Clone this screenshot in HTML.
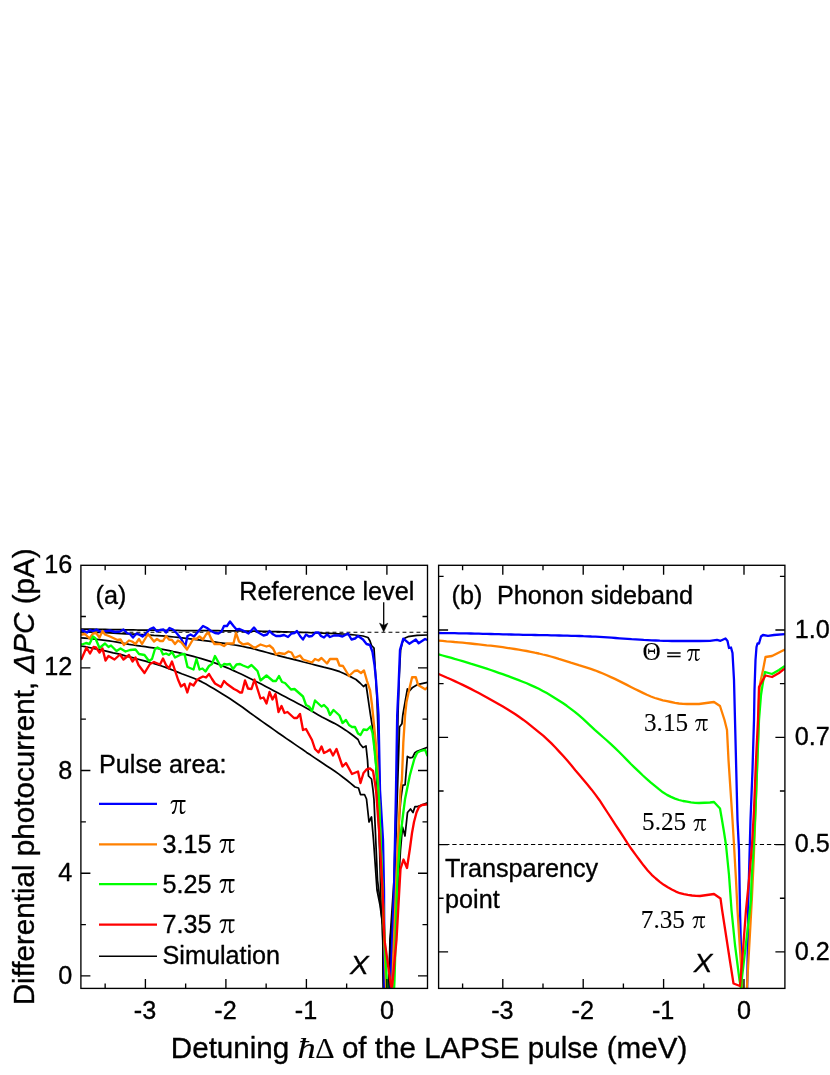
<!DOCTYPE html>
<html><head><meta charset="utf-8"><title>Figure</title>
<style>
html,body{margin:0;padding:0;background:#fff;}
body{width:830px;height:1075px;position:relative;overflow:hidden;font-family:"Liberation Sans",sans-serif;color:#000;}
.t{position:absolute;white-space:nowrap;line-height:1;margin:0;padding:0;}
.bl{display:inline-block;}
.s{font-family:"Liberation Serif",serif;}
svg text{font-family:"Liberation Sans",sans-serif;fill:#000;stroke:#000;stroke-width:0.35px;stroke-linejoin:round;}
.ser{font-family:"Liberation Serif",serif;stroke-width:0.12px !important;}
</style></head><body>
<svg width="830" height="1075" viewBox="0 0 830 1075" style="position:absolute;left:0;top:0;will-change:transform">
<defs>
<clipPath id="cl"><rect x="80.90" y="565.30" width="346.60" height="423.10"/></clipPath>
<clipPath id="cr"><rect x="438.60" y="565.30" width="346.30" height="423.10"/></clipPath>
<path id="pi" d="M0.05,3.9 C0.25,1.6 1.5,0 3.6,0 L15,0 L15,2.05 L11.25,2.05 C11.1,5 11.0,8.5 11.1,10.6 C11.15,11.7 11.6,12.25 12.4,12.25 C13.3,12.25 14.0,11.6 14.55,10.6 L15.1,10.9 C14.5,12.6 13.2,14 11.6,14 C10.0,14 9.3,12.8 9.3,10.9 C9.3,8 9.5,5 9.65,2.05 L6.65,2.05 C6.4,5 5.9,8.3 4.9,11 C4.3,12.7 3.6,14 2.5,14 C1.8,14 1.3,13.5 1.3,12.9 C1.3,12.3 1.7,11.9 2.3,11.7 C3.0,11.4 3.5,10.8 3.9,9.6 C4.6,7.4 5.0,4.6 5.2,2.05 L3.9,2.05 C2.2,2.05 1.2,2.7 0.7,4.05 Z"/>
</defs>
<line x1="80.5" y1="632.2" x2="427.5" y2="632.2" stroke="#000" stroke-width="1.05" stroke-dasharray="3.9 3.1"/>
<line x1="438.0" y1="844.5" x2="784.9" y2="844.5" stroke="#000" stroke-width="1.05" stroke-dasharray="4.3 2.85"/>
<g clip-path="url(#cl)" fill="none" stroke-linejoin="round" stroke-linecap="butt">
<polyline points="81.0,629.0 85.0,629.1 89.1,629.2 93.1,629.2 97.1,629.3 101.1,629.4 105.2,629.4 109.2,629.5 113.2,629.6 117.3,629.7 121.3,629.7 125.3,629.8 129.3,629.8 133.4,629.9 137.4,630.0 141.4,630.0 145.5,630.1 149.5,630.1 153.5,630.2 157.5,630.2 161.6,630.3 165.6,630.3 169.6,630.4 173.7,630.4 177.7,630.4 181.7,630.5 185.7,630.5 189.8,630.5 193.8,630.6 197.8,630.6 201.9,630.6 205.9,630.7 209.9,630.7 213.9,630.7 218.0,630.7 222.0,630.8 226.0,630.8 230.1,630.9 234.1,630.9 238.1,630.9 242.1,631.0 246.2,631.0 250.2,631.1 254.2,631.2 258.3,631.2 262.3,631.3 266.3,631.4 270.3,631.5 274.4,631.6 278.4,631.7 282.4,631.8 286.5,631.9 290.5,632.0 294.5,632.2 298.5,632.3 302.6,632.4 306.6,632.5 310.6,632.7 314.7,632.8 318.7,633.0 322.7,633.1 326.7,633.3 330.8,633.4 334.8,633.6 338.8,633.8 342.9,634.0 346.9,634.3 350.9,634.6 354.9,635.0 359.0,635.5 363.0,636.0 368.0,637.5 370.0,641.0 371.5,645.5 374.0,648.0 375.0,665.0 377.0,700.0 379.0,760.0 381.0,850.0 382.6,920.0 383.8,1000.0 388.4,1000.0 390.0,940.0 392.0,910.0 394.0,880.0 396.5,790.0 398.0,715.0 399.3,675.0 400.6,650.0 402.5,642.0 405.0,638.0 408.0,636.7 417.0,635.3 427.5,635.0" stroke="#000" stroke-width="1.75"/>
<polyline points="81.0,631.5 85.0,631.7 89.1,631.9 93.1,632.1 97.2,632.3 101.2,632.5 105.3,632.7 109.3,632.9 113.4,633.1 117.4,633.4 121.4,633.6 125.5,633.8 129.5,634.0 133.6,634.2 137.6,634.4 141.7,634.6 145.7,634.9 149.8,635.1 153.8,635.4 157.8,635.6 161.9,635.9 165.9,636.2 170.0,636.6 174.0,637.0 178.1,637.4 182.1,637.8 186.1,638.3 190.2,638.8 194.2,639.3 198.3,639.8 202.3,640.3 206.4,640.8 210.4,641.3 214.5,641.9 218.5,642.5 222.5,643.1 226.6,643.7 230.6,644.3 234.7,645.0 238.7,645.7 242.8,646.5 246.8,647.3 250.9,648.2 254.9,649.2 258.9,650.3 263.0,651.4 267.0,652.5 271.1,653.6 275.1,654.7 279.2,655.8 283.2,656.8 287.2,657.9 291.3,658.9 295.3,659.9 299.4,660.9 303.4,662.0 307.5,663.0 311.5,664.0 315.6,665.1 319.6,666.1 323.6,667.2 327.7,668.2 331.7,669.2 335.8,670.3 339.8,671.7 343.9,673.5 347.9,675.5 352.0,677.4 356.0,679.5 360.0,683.0 363.5,686.5 366.0,684.5 367.0,691.0 369.0,705.0 370.5,715.0 371.8,723.0 373.4,735.0 375.6,760.0 377.8,800.0 379.6,850.0 380.8,895.0 382.5,925.0 383.8,1000.0 388.6,1000.0 390.2,940.0 394.0,900.0 396.7,815.0 398.1,770.8 399.5,727.1 401.9,723.8 402.8,715.0 405.1,701.9 407.4,688.8 408.8,691.6 412.6,687.4 417.2,684.7 427.5,682.3" stroke="#000" stroke-width="1.75"/>
<polyline points="81.0,637.8 85.0,638.1 89.0,638.5 93.0,638.9 97.1,639.3 101.1,639.8 105.1,640.3 109.1,640.9 113.1,641.5 117.1,642.2 121.1,642.9 125.2,643.7 129.2,644.4 133.2,645.0 137.2,645.6 141.2,646.2 145.2,646.7 149.2,647.3 153.3,647.9 157.3,648.5 161.3,649.2 165.3,649.9 169.3,650.7 173.3,651.6 177.3,652.4 181.4,653.4 185.4,654.3 189.4,655.3 193.4,656.4 197.4,657.5 201.4,658.6 205.4,659.8 209.5,661.1 213.5,662.5 217.5,663.9 221.5,665.5 225.5,667.1 229.5,668.8 233.6,670.6 237.6,672.5 241.6,674.3 245.6,676.2 249.6,678.2 253.6,680.2 257.6,682.2 261.7,684.3 265.7,686.4 269.7,688.5 273.7,690.7 277.7,692.8 281.7,694.9 285.7,697.0 289.8,699.2 293.8,701.3 297.8,703.4 301.8,705.6 305.8,707.8 309.8,710.1 313.8,712.3 317.9,714.7 321.9,717.0 325.9,719.1 329.9,721.1 333.9,723.1 337.9,725.3 341.9,727.7 346.0,730.4 350.0,733.2 354.0,736.3 358.0,739.5 360.0,744.0 363.0,747.5 366.0,746.0 367.5,760.0 368.5,776.0 371.5,779.0 373.0,790.0 374.0,800.0 377.5,880.0 380.0,900.0 382.6,925.0 383.8,1000.0 388.8,1000.0 390.5,940.0 396.0,900.0 399.5,815.0 400.9,798.7 402.8,785.2 405.1,784.8 407.4,756.4 409.8,757.8 412.6,757.3 414.9,752.7 417.2,751.3 427.5,747.3" stroke="#000" stroke-width="1.75"/>
<polyline points="81.0,646.0 85.0,646.7 89.1,647.5 93.1,648.3 97.1,649.2 101.1,650.0 105.2,650.9 109.2,651.8 113.2,652.8 117.3,653.7 121.3,654.7 125.3,655.8 129.4,656.8 133.4,657.9 137.4,659.0 141.4,660.1 145.5,661.2 149.5,662.4 153.5,663.5 157.6,664.7 161.6,666.0 165.6,667.4 169.6,668.9 173.7,670.5 177.7,672.1 181.7,673.7 185.8,675.2 189.8,676.7 193.8,678.3 197.9,680.0 201.9,681.9 205.9,684.1 209.9,686.4 214.0,688.8 218.0,691.2 222.0,693.7 226.1,696.2 230.1,698.8 234.1,701.5 238.1,704.2 242.2,707.0 246.2,710.0 250.2,713.0 254.3,715.9 258.3,718.8 262.3,721.6 266.4,724.5 270.4,727.3 274.4,730.1 278.4,733.0 282.5,735.8 286.5,738.6 290.5,741.3 294.6,744.1 298.6,746.9 302.6,749.6 306.6,752.4 310.7,755.1 314.7,757.9 318.7,760.6 322.8,763.3 326.8,766.0 330.8,768.6 334.9,771.3 338.9,774.1 342.9,777.2 346.9,780.3 351.0,783.6 355.0,787.0 358.5,788.0 360.5,794.5 364.5,794.5 366.5,799.0 369.0,822.0 371.5,817.0 373.5,840.0 377.0,890.0 380.0,905.0 382.6,925.0 383.8,1000.0 389.0,1000.0 391.0,940.0 397.5,900.0 400.5,850.0 402.5,827.0 405.0,836.0 407.5,812.5 410.5,809.0 413.0,812.5 415.0,806.5 417.5,806.5 427.5,802.8" stroke="#000" stroke-width="1.75"/>
<polyline points="81.0,630.5 82.0,630.5 84.0,631.0 87.0,632.5 90.0,630.0 93.0,631.0 96.5,629.5 100.0,631.5 104.0,631.5 110.0,630.5 115.0,632.0 120.0,631.5 123.5,629.5 127.0,633.0 130.0,634.0 133.0,637.5 136.5,633.5 139.0,634.5 142.5,636.5 146.0,633.5 150.0,629.0 153.5,627.5 157.0,631.5 160.0,630.0 163.5,629.5 166.0,632.5 169.5,628.0 173.0,629.5 176.5,633.0 181.0,638.5 185.2,646.8 187.5,636.0 190.5,634.5 194.0,636.5 199.0,630.5 203.0,626.0 207.0,628.0 211.0,631.0 215.0,633.0 218.5,633.5 221.5,631.5 224.0,626.0 227.0,626.0 230.0,621.5 233.5,626.0 236.5,629.5 239.5,629.0 243.0,630.5 245.0,631.5 248.5,633.5 254.0,627.5 257.5,632.0 263.5,635.5 267.0,634.5 269.5,631.0 272.5,634.0 276.0,636.0 280.0,636.0 284.0,635.0 288.0,637.0 291.5,633.5 294.5,633.0 297.0,631.0 300.0,636.0 303.0,639.5 306.0,634.5 309.0,636.5 312.0,636.0 315.5,632.5 318.5,632.5 321.0,636.0 324.0,637.5 327.0,634.5 330.0,637.0 334.0,635.5 339.0,635.5 342.5,636.5 348.0,633.5 351.5,639.5 355.0,638.5 358.0,636.0 363.0,639.5 366.5,644.0 370.0,645.0 372.5,652.0 374.5,665.0 376.0,680.0 377.5,700.0 378.5,715.0 380.0,790.0 383.0,840.0 384.0,890.0 384.6,1000.0 390.4,1000.0 391.5,960.0 393.0,920.0 394.0,890.0 396.0,790.0 397.2,715.0 398.6,685.0 400.0,649.8 403.3,638.6 409.3,643.7 415.8,639.5 418.6,643.3 425.1,639.0 427.5,640.0" stroke="#0000ff" stroke-width="2.35"/>
<polyline points="81.0,634.5 82.0,634.5 85.0,634.0 89.5,638.5 93.0,633.5 96.0,633.0 99.5,637.5 102.5,631.0 105.0,634.5 110.0,636.5 117.5,640.0 120.5,639.5 124.0,645.0 129.0,640.5 132.0,641.5 135.5,644.0 139.0,639.0 142.0,644.0 148.0,634.0 154.0,641.5 157.0,639.0 160.0,641.0 163.0,641.0 166.0,636.0 169.0,639.5 172.0,640.0 175.0,644.0 178.0,640.5 181.5,642.5 187.0,649.5 190.0,644.5 193.5,638.5 196.5,639.0 199.5,636.5 203.0,639.5 206.0,634.5 208.5,632.5 211.0,638.5 214.5,644.0 220.0,644.0 224.0,646.0 227.0,643.5 233.5,643.5 236.0,633.0 239.0,641.5 243.0,644.5 248.0,643.5 254.5,648.0 260.5,644.5 266.5,646.5 269.5,645.5 273.0,648.5 276.0,654.5 279.0,653.0 284.5,654.0 288.5,651.5 291.5,652.5 294.5,658.0 300.0,655.5 303.0,659.5 312.0,662.5 315.0,659.0 318.5,660.5 321.5,658.0 323.5,660.0 327.0,663.5 330.0,659.0 337.0,659.0 339.5,665.5 343.0,666.0 349.0,676.0 354.5,671.0 357.5,670.5 361.0,673.0 364.0,670.5 367.0,681.0 370.0,690.0 372.0,705.0 373.0,715.0 376.5,750.0 379.0,800.0 382.0,880.0 386.6,1000.0 391.6,1000.0 396.0,890.0 398.0,840.0 400.5,790.0 401.9,780.0 403.3,742.9 405.1,715.0 406.5,701.9 409.8,687.0 412.1,677.2 415.8,677.2 418.1,685.1 425.1,689.3 427.5,687.4" stroke="#ff8000" stroke-width="2.35"/>
<polyline points="81.0,644.5 82.0,644.5 86.0,643.0 89.5,644.0 93.0,636.5 95.5,638.5 99.5,648.0 105.0,643.5 108.5,647.0 111.0,645.5 116.5,651.0 120.5,648.5 125.5,651.5 130.0,650.0 135.5,649.5 139.0,654.0 144.5,655.0 149.0,661.0 152.0,659.0 155.0,649.0 157.5,647.5 160.5,649.0 163.0,654.5 166.0,653.5 169.0,655.0 172.0,652.0 175.0,657.5 181.0,654.5 184.5,654.0 187.5,667.0 193.5,669.5 196.5,659.0 199.5,669.5 202.5,668.5 205.5,671.5 209.0,666.0 212.0,664.0 215.0,656.0 221.0,667.0 224.0,664.0 227.0,664.5 230.0,664.0 233.0,669.0 236.5,664.5 240.0,664.0 243.0,665.5 248.0,667.5 251.5,665.0 257.5,671.0 260.5,680.5 266.5,675.5 273.0,681.0 276.0,681.0 279.0,676.0 282.0,682.0 285.0,683.0 291.0,689.5 294.5,689.0 303.0,696.5 306.0,705.0 309.0,706.5 312.0,711.0 315.0,700.5 321.5,706.5 324.0,705.0 327.5,708.5 330.0,715.0 333.5,710.0 339.5,715.5 342.5,723.0 346.0,720.0 349.0,725.0 352.0,727.0 355.0,727.0 358.0,733.5 360.5,735.0 363.5,729.5 367.0,730.0 370.5,726.5 372.5,733.0 374.0,745.0 375.5,760.0 377.5,780.0 379.0,800.0 381.0,850.0 384.6,940.0 387.9,1000.0 393.6,1000.0 394.5,980.0 397.0,890.0 398.0,870.0 400.0,840.0 403.0,815.0 405.1,798.7 409.8,775.5 414.4,758.7 417.2,752.7 420.9,750.8 425.1,749.9 427.5,756.0" stroke="#00ff00" stroke-width="2.35"/>
<polyline points="81.0,659.0 81.5,659.0 86.5,647.5 90.0,653.5 93.5,647.0 96.0,647.5 99.5,652.5 102.5,648.5 105.5,660.5 108.5,656.0 114.5,659.5 120.0,654.5 123.5,659.5 129.0,655.0 132.5,661.5 135.5,657.5 138.5,665.0 144.5,673.0 150.0,664.0 154.0,662.0 160.0,664.5 163.0,658.5 166.0,665.0 169.0,668.5 172.0,661.5 175.0,670.5 178.0,679.5 181.0,686.5 184.5,684.0 187.3,692.5 190.0,683.5 193.5,685.5 197.0,680.0 200.0,678.0 203.0,676.5 206.0,677.5 209.0,674.0 212.0,679.0 215.0,683.5 221.0,687.0 224.0,681.0 227.0,684.0 234.0,689.0 237.0,690.5 240.0,692.5 242.0,692.5 245.0,680.5 248.0,688.5 251.5,689.0 254.5,679.5 257.5,689.0 260.5,698.5 263.5,697.5 266.5,703.5 269.5,692.0 272.5,699.5 275.5,694.0 278.5,712.0 281.5,706.0 284.5,713.0 287.5,712.0 294.0,718.0 297.0,718.0 300.0,714.0 303.0,730.0 306.0,729.0 312.0,740.0 315.0,749.0 318.5,752.5 321.5,746.5 324.0,753.0 327.0,751.5 330.0,749.5 333.0,755.5 336.5,749.0 342.5,766.5 346.0,763.0 352.0,774.0 358.0,771.5 360.5,783.0 363.5,773.0 366.5,769.5 370.0,768.5 373.0,771.0 374.5,780.0 376.0,790.0 379.0,830.0 382.5,890.0 384.5,940.0 391.0,986.0 391.6,987.3 392.2,986.0 396.5,940.0 399.3,890.0 400.5,869.0 403.5,859.5 407.0,868.0 410.0,848.0 412.0,833.0 414.0,822.0 416.5,812.5 419.0,807.0 422.0,805.0 427.5,804.3" stroke="#ff0000" stroke-width="2.35"/>
</g>
<g clip-path="url(#cr)" fill="none" stroke-linejoin="round" stroke-linecap="butt">
<polyline points="438.6,633.0 442.6,633.1 446.6,633.1 450.7,633.2 454.7,633.2 458.7,633.3 462.7,633.4 466.8,633.4 470.8,633.5 474.8,633.6 478.8,633.7 482.8,633.8 486.9,633.9 490.9,634.0 494.9,634.1 498.9,634.2 502.9,634.3 507.0,634.4 511.0,634.5 515.0,634.6 519.0,634.7 523.1,634.8 527.1,634.8 531.1,634.9 535.1,635.0 539.1,635.1 543.2,635.1 547.2,635.2 551.2,635.3 555.2,635.4 559.2,635.5 563.3,635.6 567.3,635.7 571.3,635.8 575.3,635.9 579.4,636.0 583.4,636.2 587.4,636.3 591.4,636.5 595.4,636.6 599.5,636.8 603.5,637.1 607.5,637.4 611.5,637.7 615.5,638.0 619.6,638.3 623.6,638.6 627.6,638.9 631.6,639.2 635.7,639.4 639.7,639.6 643.7,639.9 647.7,640.1 651.7,640.3 655.8,640.5 659.8,640.7 663.8,640.8 667.8,640.9 671.8,641.0 675.9,641.0 679.9,641.0 683.9,641.0 687.9,641.0 692.0,641.0 696.0,641.0 700.0,641.0 710.0,640.8 717.0,639.8 720.5,640.8 725.5,638.5 727.5,641.0 729.0,648.0 731.0,647.5 732.5,653.0 734.0,680.0 735.0,720.0 736.0,760.0 737.5,820.0 739.0,850.0 740.0,910.0 741.0,950.0 741.6,1000.0 747.0,1000.0 747.6,960.0 748.3,900.0 750.5,820.0 752.5,770.0 754.0,720.0 754.5,690.0 755.5,660.0 756.5,647.0 757.5,643.5 759.0,643.5 761.0,636.5 763.0,635.0 768.0,635.8 774.0,635.0 784.9,634.2" stroke="#0000ff" stroke-width="2.3"/>
<polyline points="438.6,640.6 442.6,640.9 446.6,641.3 450.6,641.6 454.6,642.0 458.6,642.3 462.6,642.7 466.6,643.1 470.6,643.5 474.7,644.0 478.7,644.4 482.7,644.8 486.7,645.3 490.7,645.7 494.7,646.2 498.7,646.7 502.7,647.2 506.7,647.8 510.7,648.4 514.7,649.0 518.7,649.6 522.7,650.3 526.7,651.0 530.7,651.8 534.7,652.7 538.8,653.5 542.8,654.5 546.8,655.4 550.8,656.5 554.8,657.6 558.8,658.9 562.8,660.1 566.8,661.4 570.8,662.7 574.8,663.9 578.8,665.2 582.8,666.4 586.8,667.6 590.8,668.9 594.8,670.3 598.8,671.9 602.9,673.5 606.9,675.3 610.9,677.1 614.9,678.9 618.9,680.9 622.9,682.9 626.9,684.9 630.9,687.0 634.9,689.0 638.9,690.9 642.9,692.9 646.9,694.8 650.9,696.5 654.9,698.0 658.9,699.2 662.9,700.3 667.0,701.2 671.0,702.0 675.0,702.8 679.0,703.5 683.0,703.9 687.0,704.0 691.0,704.0 695.0,704.0 699.0,704.0 710.0,702.5 714.0,702.0 720.0,706.0 724.5,720.0 727.0,730.0 728.5,760.0 730.5,790.0 732.5,820.0 734.0,845.0 736.0,880.0 737.5,910.0 740.0,950.0 743.0,995.0 746.5,995.0 749.6,940.0 751.8,900.0 753.7,860.0 755.9,800.0 758.0,740.0 759.0,700.0 760.0,684.0 763.0,670.0 765.5,657.0 772.0,656.0 784.9,649.6" stroke="#ff8000" stroke-width="2.3"/>
<polyline points="438.6,654.4 442.6,655.5 446.6,656.6 450.6,657.7 454.6,658.9 458.6,660.0 462.6,661.2 466.6,662.4 470.6,663.7 474.7,664.9 478.7,666.1 482.7,667.4 486.7,668.7 490.7,670.0 494.7,671.4 498.7,672.8 502.7,674.2 506.7,675.6 510.7,677.1 514.7,678.6 518.7,680.1 522.7,681.7 526.7,683.3 530.7,685.1 534.7,686.9 538.8,688.8 542.8,690.9 546.8,693.1 550.8,695.4 554.8,697.9 558.8,700.4 562.8,703.0 566.8,705.8 570.8,708.8 574.8,711.8 578.8,715.2 582.8,718.7 586.8,722.4 590.8,726.2 594.8,729.9 598.8,733.4 602.9,737.0 606.9,740.5 610.9,744.2 614.9,747.9 618.9,751.8 622.9,755.8 626.9,759.9 630.9,764.0 634.9,767.9 638.9,771.7 642.9,775.5 646.9,779.1 650.9,782.6 654.9,785.9 658.9,789.2 662.9,792.3 667.0,794.9 671.0,796.9 675.0,798.6 679.0,800.0 683.0,801.0 687.0,801.7 691.0,802.4 695.0,802.8 699.0,803.0 710.0,802.5 714.0,802.0 720.0,808.5 722.0,820.0 724.0,832.0 726.0,845.0 729.0,875.0 731.5,910.0 735.0,945.0 739.5,980.0 741.2,990.0 741.7,980.0 747.0,935.0 751.0,900.0 751.5,880.0 753.5,850.0 755.5,810.0 759.0,720.0 761.0,695.0 763.0,682.0 765.0,672.0 772.0,674.0 779.0,670.0 784.9,666.0" stroke="#00ff00" stroke-width="2.3"/>
<polyline points="438.6,674.0 442.6,675.7 446.6,677.5 450.7,679.2 454.7,681.1 458.7,683.0 462.7,684.9 466.8,686.9 470.8,688.9 474.8,691.0 478.8,693.1 482.8,695.2 486.9,697.4 490.9,699.7 494.9,701.9 498.9,704.2 502.9,706.5 507.0,708.9 511.0,711.4 515.0,714.0 519.0,716.8 523.1,719.7 527.1,722.7 531.1,725.9 535.1,729.1 539.1,732.4 543.2,735.7 547.2,739.3 551.2,743.1 555.2,747.3 559.2,751.6 563.3,756.1 567.3,760.6 571.3,765.3 575.3,770.2 579.4,775.0 583.4,779.8 587.4,784.6 591.4,789.4 595.4,794.6 599.5,800.2 603.5,806.3 607.5,812.5 611.5,818.7 615.5,824.8 619.6,831.0 623.6,837.2 627.6,843.4 631.6,849.3 635.7,854.9 639.7,860.3 643.7,865.6 647.7,870.5 651.7,874.8 655.8,878.5 659.8,881.8 663.8,884.8 667.8,887.3 671.8,889.5 675.9,891.6 679.9,893.2 683.9,894.2 687.9,894.9 692.0,895.5 696.0,895.9 700.0,896.0 714.0,894.0 720.5,898.5 722.1,910.0 725.2,930.0 729.8,960.0 733.5,983.5 740.0,986.0 743.0,950.0 746.0,910.0 749.0,880.0 752.0,845.0 754.0,810.0 756.0,760.0 758.0,720.0 759.0,687.0 765.5,675.5 772.0,677.0 779.0,673.0 784.9,668.5" stroke="#ff0000" stroke-width="2.3"/>
</g>
<g stroke="#000" stroke-width="1.35" fill="none">
<rect x="80.90" y="565.30" width="346.60" height="423.10"/>
<rect x="438.60" y="565.30" width="346.30" height="423.10"/>
<path d="M145.40 988.40V978.90M145.40 565.30V574.80M225.90 988.40V978.90M225.90 565.30V574.80M306.40 988.40V978.90M306.40 565.30V574.80M386.90 988.40V978.90M386.90 565.30V574.80M105.15 988.40V983.40M105.15 565.30V570.30M185.65 988.40V983.40M185.65 565.30V570.30M266.15 988.40V983.40M266.15 565.30V570.30M346.65 988.40V983.40M346.65 565.30V570.30M502.80 988.40V978.90M502.80 565.30V574.80M583.20 988.40V978.90M583.20 565.30V574.80M663.60 988.40V978.90M663.60 565.30V574.80M744.00 988.40V978.90M744.00 565.30V574.80M462.60 988.40V983.40M462.60 565.30V570.30M543.00 988.40V983.40M543.00 565.30V570.30M623.40 988.40V983.40M623.40 565.30V570.30M703.80 988.40V983.40M703.80 565.30V570.30M80.90 975.90H90.40M427.50 975.90H418.00M80.90 873.20H90.40M427.50 873.20H418.00M80.90 770.50H90.40M427.50 770.50H418.00M80.90 667.80H90.40M427.50 667.80H418.00M80.90 924.55H85.90M427.50 924.55H422.50M80.90 821.85H85.90M427.50 821.85H422.50M80.90 719.15H85.90M427.50 719.15H422.50M80.90 616.45H85.90M427.50 616.45H422.50M438.60 630.00H448.10M784.90 630.00H775.40M438.60 737.30H448.10M784.90 737.30H775.40M438.60 844.60H448.10M784.90 844.60H775.40M438.60 951.90H448.10M784.90 951.90H775.40M438.60 576.35H443.60M784.90 576.35H779.90M438.60 683.65H443.60M784.90 683.65H779.90M438.60 790.95H443.60M784.90 790.95H779.90M438.60 898.25H443.60M784.90 898.25H779.90"/>
</g>
<path d="M383.7 602.3V628" stroke="#000" stroke-width="1.3" fill="none"/>
<path d="M383.7 631.8L379.6 623.2L383.7 625.4L387.8 623.2Z" fill="#000" stroke="#000" stroke-width="0.6" stroke-linejoin="miter"/>
<line x1="99" y1="803.8" x2="157" y2="803.8" stroke="#0000ff" stroke-width="2.3"/>
<line x1="99" y1="844.3" x2="157" y2="844.3" stroke="#ff8000" stroke-width="2.3"/>
<line x1="99" y1="884.2" x2="157" y2="884.2" stroke="#00ff00" stroke-width="2.3"/>
<line x1="99" y1="924.6" x2="157" y2="924.6" stroke="#ff0000" stroke-width="2.3"/>
<line x1="99" y1="956.3" x2="157" y2="956.3" stroke="#000" stroke-width="1.4"/>
<g><text x="145.0" y="1018.7" font-size="25.20" text-anchor="middle"  >-3</text>
<text x="225.5" y="1018.7" font-size="25.20" text-anchor="middle"  >-2</text>
<text x="306.0" y="1018.7" font-size="25.20" text-anchor="middle"  >-1</text>
<text x="386.9" y="1018.7" font-size="25.20" text-anchor="middle"  >0</text>
<text x="502.4" y="1018.7" font-size="25.20" text-anchor="middle"  >-3</text>
<text x="582.8" y="1018.7" font-size="25.20" text-anchor="middle"  >-2</text>
<text x="663.2" y="1018.7" font-size="25.20" text-anchor="middle"  >-1</text>
<text x="744.0" y="1018.7" font-size="25.20" text-anchor="middle"  >0</text>
<text x="72.2" y="984.1" font-size="25.20" text-anchor="end"  >0</text>
<text x="72.2" y="881.2" font-size="25.20" text-anchor="end"  >4</text>
<text x="72.2" y="778.5" font-size="25.20" text-anchor="end"  >8</text>
<text x="72.2" y="675.4" font-size="25.20" text-anchor="end"  >12</text>
<text x="72.2" y="573.4" font-size="25.20" text-anchor="end"  >16</text>
<text x="794.7" y="637.8" font-size="25.20" text-anchor="start"  >1.0</text>
<text x="794.7" y="745.1" font-size="25.20" text-anchor="start"  >0.7</text>
<text x="794.7" y="852.4" font-size="25.20" text-anchor="start"  >0.5</text>
<text x="794.7" y="959.7" font-size="25.20" text-anchor="start"  >0.2</text>
<text x="95.5" y="603.8" font-size="25.20" text-anchor="start"  >(a)</text>
<text x="239.3" y="599.6" font-size="25.20" text-anchor="start"  >Reference level</text>
<text x="451.6" y="603.8" font-size="25.20" text-anchor="start"  >(b)</text>
<text x="497.0" y="603.8" font-size="25.20" text-anchor="start"  >Phonon sideband</text>
<text x="99.0" y="773.2" font-size="25.20" text-anchor="start"  >Pulse area:</text>
<use href="#pi" transform="translate(170.50,800.00) scale(1.000)"/>
<text x="162.5" y="852.8" font-size="25.20" text-anchor="start"  >3.15</text>
<use href="#pi" transform="translate(219.50,839.00) scale(1.000)"/>
<text x="162.5" y="892.9" font-size="25.20" text-anchor="start"  >5.25</text>
<use href="#pi" transform="translate(219.50,879.10) scale(1.000)"/>
<text x="162.5" y="933.0" font-size="25.20" text-anchor="start"  >7.35</text>
<use href="#pi" transform="translate(219.50,919.20) scale(1.000)"/>
<text x="162.5" y="964.4" font-size="25.20" text-anchor="start"  >Simulation</text>
<text transform="translate(350.0,973.6) scale(1.11,1)" font-size="25.20" font-style="italic">X</text>
<text transform="translate(693.8,971.7) scale(1.11,1)" font-size="25.20" font-style="italic">X</text>
<text x="445.1" y="876.5" font-size="25.20" text-anchor="start"  >Transparency</text>
<text x="445.1" y="908.2" font-size="25.20" text-anchor="start"  >point</text>
<text x="642.6" y="660.3" font-size="25.20" text-anchor="start" class="ser" >&#920;</text>
<use href="#pi" transform="translate(687.00,649.06) scale(0.853)"/>
<path d="M667.2 653.0H680.6M667.2 656.5H680.6" stroke="#000" stroke-width="1.3" fill="none"/>
<text x="644.0" y="730.5" font-size="25.20" text-anchor="start" class="ser" >3.15</text>
<use href="#pi" transform="translate(695.00,719.07) scale(0.845)"/>
<text x="642.1" y="830.0" font-size="25.20" text-anchor="start" class="ser" >5.25</text>
<use href="#pi" transform="translate(693.40,819.07) scale(0.845)"/>
<text x="640.8" y="927.7" font-size="25.20" text-anchor="start" class="ser" >7.35</text>
<use href="#pi" transform="translate(692.40,916.37) scale(0.845)"/>
<text x="170.8" y="1058.2" font-size="29.60" text-anchor="start"  >Detuning</text>
<text class="ser" transform="translate(297.6,1058.2) scale(1.22,1)" font-size="30" font-style="italic">&#295;</text>
<text x="315.2" y="1058.2" font-size="30.00" text-anchor="start" class="ser" >&#916;</text>
<text x="341.9" y="1058.2" font-size="29.60" text-anchor="start"  >of the LAPSE pulse (meV)</text>
<text transform="translate(33.6,1005.3) rotate(-90)" font-size="29.60">Differential photocurrent, <tspan font-style="italic">&#916;PC</tspan> (pA)</text></g>
</svg>
</body></html>
